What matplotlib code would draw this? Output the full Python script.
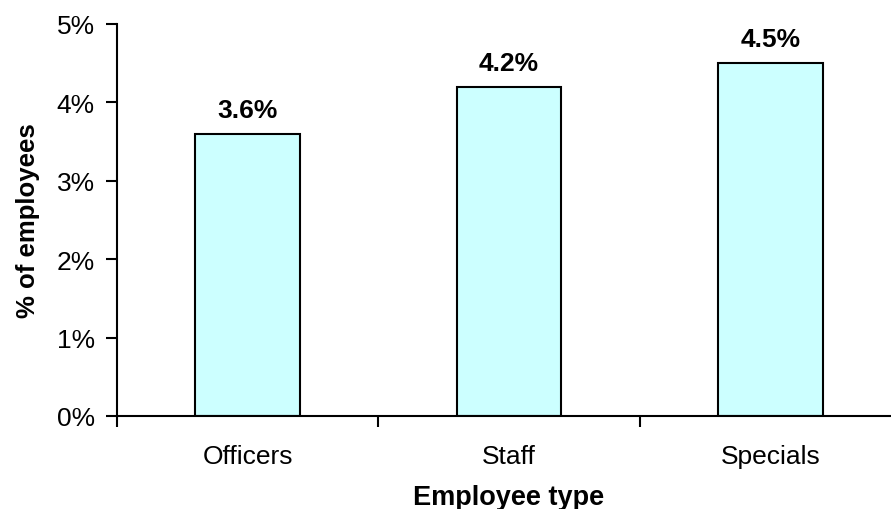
import matplotlib.pyplot as plt
from matplotlib.ticker import FuncFormatter, FixedLocator

plt.rcParams['font.family'] = ['Liberation Sans', 'DejaVu Sans']

categories = ['Officers', 'Staff', 'Specials']
values = [3.6, 4.2, 4.5]

fig = plt.figure(figsize=(8.91, 5.10), dpi=100)
ax = fig.add_axes([117 / 891, 1 - 417 / 510, 784 / 891, 392 / 510])

x = range(len(categories))
ax.bar(x, values, width=0.40, color='#CCFFFF', edgecolor='black', linewidth=1.5, zorder=2)

for xi, v in zip(x, values):
    ax.text(xi, v + 0.15, '%.1f%%' % v, ha='center', va='bottom',
            fontsize=19, fontweight='bold')

ax.set_xlim(-0.5, 2.5)
ax.set_ylim(0, 5)
ax.set_yticks(range(0, 6))
ax.yaxis.set_major_formatter(FuncFormatter(lambda v, p: '%d%%' % v))

# category names sit between the boundary ticks
ax.set_xticks([0, 1, 2])
ax.set_xticklabels(categories, fontsize=19)
ax.tick_params(axis='x', which='major', length=0, pad=20)
ax.xaxis.set_minor_locator(FixedLocator([-0.5, 0.5, 1.5]))
ax.tick_params(axis='x', which='minor', length=8, width=1.5, direction='out')
ax.tick_params(axis='y', labelsize=19, length=8, width=1.5, direction='out', pad=8)

for s in ['top', 'right']:
    ax.spines[s].set_visible(False)
for s in ['left', 'bottom']:
    ax.spines[s].set_linewidth(1.5)

ax.set_xlabel('Employee type', fontsize=19.5, fontweight='bold', labelpad=12)
ax.set_ylabel('% of employees', fontsize=18.5, fontweight='bold', labelpad=12)

fig.savefig('out.png', dpi=100)
